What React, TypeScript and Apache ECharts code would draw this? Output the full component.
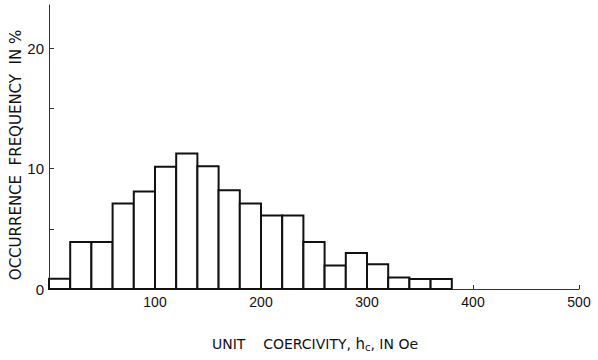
import React, { useEffect, useRef } from "react";
import * as echarts from "echarts";

const binStarts = [0, 20, 40, 60, 80, 100, 120, 140, 160, 180, 200, 220, 240, 260, 280, 300, 320, 340, 360];
const binWidth = 20;
const frequencies = [0.85, 3.9, 3.9, 7.1, 8.1, 10.15, 11.25, 10.2, 8.2, 7.1, 6.1, 6.1, 3.9, 1.95, 3.0, 2.05, 0.96, 0.83, 0.83];
const xTickValues = [100, 200, 300, 400, 500];
const yLabelValues = [0, 10, 20];
const yTickValues = [5, 10, 15, 20];

export default function App() {
  const ref = useRef<HTMLDivElement>(null);
  useEffect(() => {
    if (!ref.current) return;
    const chart = echarts.init(ref.current, null, { renderer: "svg" });
    const data = binStarts.map((s, i) => [s, s + binWidth, frequencies[i]]);
    const font = "'Liberation Sans', Arial, sans-serif";
    const wide = "'DejaVu Sans', sans-serif";
    chart.setOption({
      animation: false,
      backgroundColor: "#fff",
      grid: { left: 49, right: 19, top: 5, bottom: 71 },
      xAxis: {
        type: "value",
        min: 0,
        max: 500,
        interval: 100,
        splitLine: { show: false },
        axisLine: { lineStyle: { color: "#333", width: 1 } },
        axisTick: { inside: true, length: 4, lineStyle: { color: "#333" }, customValues: xTickValues },
        axisLabel: { color: "#111", fontSize: 14, fontFamily: font, margin: 6, customValues: xTickValues },
      },
      yAxis: {
        type: "value",
        min: 0,
        max: 23.6,
        interval: 10,
        splitLine: { show: false },
        axisLine: { lineStyle: { color: "#333", width: 1 } },
        axisTick: { inside: true, length: 5, lineStyle: { color: "#333" }, customValues: yTickValues },
        axisLabel: { color: "#111", fontSize: 15, fontFamily: font, margin: 5, customValues: yLabelValues },
      },
      series: [
        {
          type: "custom",
          data,
          encode: { x: [0, 1], y: 2 },
          renderItem: (params: any, api: any) => {
            const p0 = api.coord([api.value(0), 0]);
            const p1 = api.coord([api.value(1), api.value(2)]);
            return {
              type: "rect",
              shape: { x: p0[0], y: p1[1], width: p1[0] - p0[0], height: p0[1] - p1[1] },
              style: { fill: "#fff", stroke: "#111", lineWidth: 2 },
            };
          },
        },
      ],
      graphic: [
        {
          type: "text",
          x: 315,
          y: 344,
          style: {
            text: "UNIT    COERCIVITY, {n|h}{s|c}, IN Oe",
            font: `14px ${wide}`,
            fill: "#111",
            align: "center",
            verticalAlign: "middle",
            rich: {
              n: { fontSize: 15, fontFamily: wide, fill: "#111" },
              s: { fontSize: 10, fontFamily: wide, fill: "#111", verticalAlign: "bottom", padding: [6, 0, 0, 0] },
            },
          },
        },
        {
          type: "text",
          x: 16,
          y: 155,
          rotation: Math.PI / 2,
          style: {
            text: "OCCURRENCE  FREQUENCY  IN %",
            font: `15px ${wide}`,
            fill: "#111",
            align: "center",
            verticalAlign: "middle",
          },
        },
      ],
    });
    return () => chart.dispose();
  }, []);
  return <div ref={ref} style={{ width: 598, height: 360, position: "absolute", left: 0, top: 0 }} />;
}
